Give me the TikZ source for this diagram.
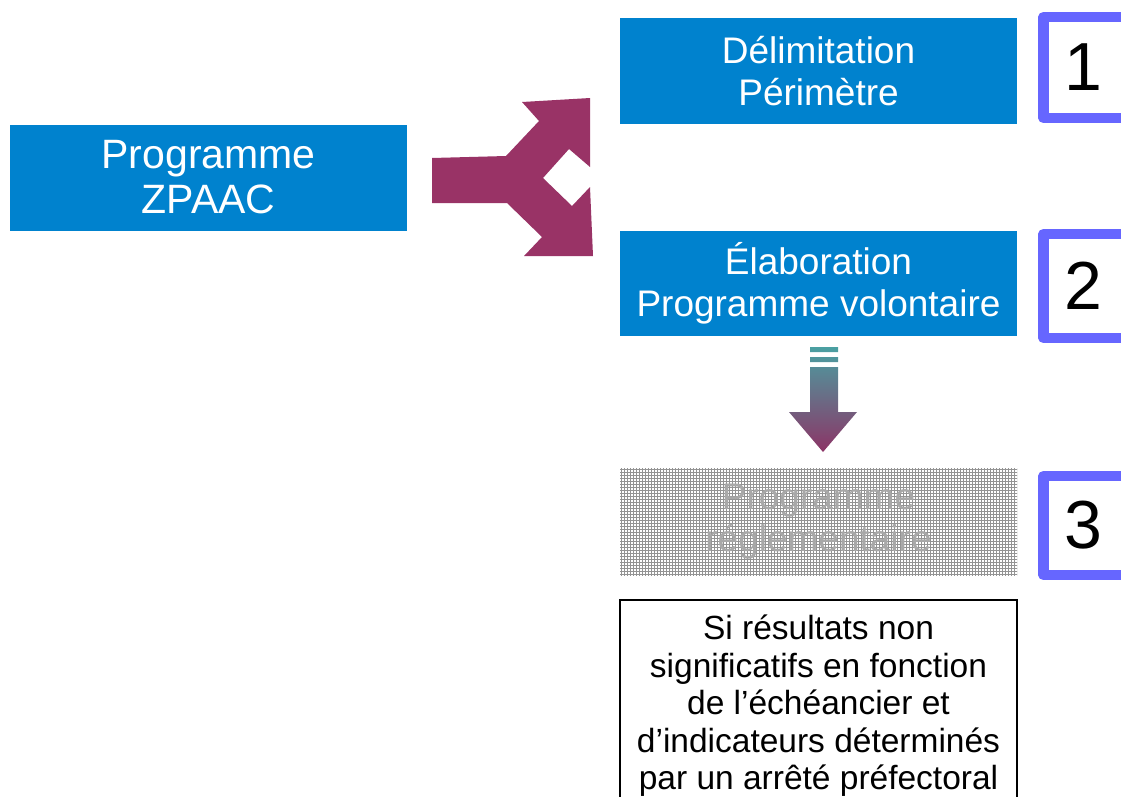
\documentclass[tikz,border=0pt]{standalone}
\usepackage{fontspec}
\setmainfont{Liberation Sans}
\usepackage{tikz}
\usetikzlibrary{patterns}

\definecolor{zblue}{HTML}{0082CE}
\definecolor{zmaroon}{HTML}{993366}
\definecolor{znum}{HTML}{6666FF}
\definecolor{zteal}{HTML}{4AA0A2}
\definecolor{zplum}{HTML}{8C3466}

\begin{document}
\begin{tikzpicture}[x=1pt,y=-1pt,
	stepbox/.style={fill=zblue,text=white,minimum width=397pt,minimum height=106pt,
		inner sep=0pt,align=center,font=\fontsize{37}{42}\selectfont},
	numbox/.style={draw=znum,line width=10.5pt,line join=round,fill=white,
		minimum width=84pt,minimum height=101pt,inner sep=0pt,font=\fontsize{68}{70}\selectfont}]
		\clip (0,0) rectangle (1121,796);
		%
		\node[stepbox,font=\fontsize{41}{45}\selectfont] (prog) at (208.5,177.5) {Programme\\ZPAAC};
		\node[stepbox] (delim) at (818.5,71) {Délimitation\\Périmètre};
		\node[stepbox,minimum height=105pt] (elab) at (818.5,283.5) {Élaboration\\Programme volontaire};
		\node[stepbox,fill=white,text=gray!68,minimum height=107pt,
			postaction={pattern=grid,pattern color=gray!85}] (regl) at (818.5,521.5) {Programme\\réglementaire};
		%
		\node[numbox] (n1) at (1085.5,67.5) {1\kern4pt};
		\node[numbox,minimum height=104pt] (n2) at (1085.5,286) {2\kern4pt};
		\node[numbox,minimum height=99pt] (n3) at (1085.5,525.5) {3\kern4pt};
		%
		\draw[line width=1.5pt] (620,600) rectangle (1017,830);
		\node[anchor=north,inner sep=0pt,align=center,font=\fontsize{33.5}{37.5}\selectfont] (cond) at (818.5,615)
			{Si résultats non\\significatifs en fonction\\de l’échéancier et\\d’indicateurs déterminés\\par un arrêté préfectoral};
		%
		\fill[zmaroon] (432,158) -- (506,156) -- (539,121) -- (522,102) -- (590,98) -- (590,167)
			-- (569,149) -- (543,178) -- (572,206) -- (590,187) -- (593,256) -- (524,256)
			-- (542,237) -- (507,203) -- (432,203) -- cycle;
		%
		\shade[top color=zteal,bottom color=zplum]
			(810,347) rectangle (838,352)
			(810,357) rectangle (838,362)
			(810,367) -- (838,367) -- (838,412) -- (857,412) -- (823,452) -- (789,412) -- (810,412) -- cycle;
	\end{tikzpicture}
\end{document}
